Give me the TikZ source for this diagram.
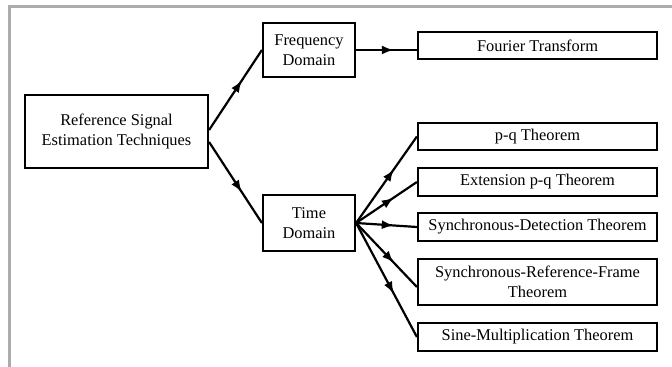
\documentclass[tikz,border=0pt]{standalone}
\usepackage{fontspec}
\setmainfont{Liberation Serif}
\usetikzlibrary{arrows.meta, decorations.markings}

\begin{document}
\begin{tikzpicture}[x=0.5pt, y=-0.5pt,
		box/.style={draw, line width=1.1pt, inner sep=0pt, align=center, font=\fontsize{8.2}{10}\selectfont},
		link/.style={line width=1.1pt, postaction={decorate},
			decoration={markings, mark=at position 0.62 with {\arrow{Latex[length=6pt,width=4.5pt]}}}}]
		
		\useasboundingbox (0,0) rectangle (672,367);
		
		% frame
		\draw[gray!65, line width=1.5pt] (9,367) -- (9,7) -- (672,7);
		
		% root
		\node[box, minimum width=91.5pt, minimum height=36.5pt] (ref) at (116.5,131.5) {Reference Signal\\Estimation Techniques};
		
		% domains
		\node[box, minimum width=46pt, minimum height=27pt] (fd) at (309,50) {Frequency\\Domain};
		\node[box, minimum width=46pt, minimum height=28pt] (td) at (309,223) {Time\\Domain};
		
		% methods
		\node[box, minimum width=119.5pt, minimum height=13.5pt] (ft) at (537.5,45.5) {Fourier Transform};
		\node[box, minimum width=119.5pt, minimum height=13.5pt] (pq) at (537.5,136.5) {p-q Theorem};
		\node[box, minimum width=119.5pt, minimum height=14pt] (epq) at (537.5,182) {Extension p-q Theorem};
		\node[box, minimum width=119.5pt, minimum height=14pt] (sd) at (537.5,227) {Synchronous-Detection Theorem};
		\node[box, minimum width=119.5pt, minimum height=23pt] (srf) at (537.5,282) {Synchronous-Reference-Frame\\Theorem};
		\node[box, minimum width=119.5pt, minimum height=14pt] (sm) at (537.5,337) {Sine-Multiplication Theorem};
		
		% links
		\draw[link] ([yshift=0.75pt]ref.east) -- (fd.west);
		\draw[link] ([yshift=-5.25pt]ref.east) -- (td.west);
		\draw[link] (fd.east) -- (fd.east -| ft.west);
		\foreach \t in {pq,epq,sd,sm}{
			\draw[link] (td.east) -- (\t.west);
		}
		\draw[link] (td.east) -- ([yshift=-2.5pt]srf.west);
		
	\end{tikzpicture}
\end{document}
